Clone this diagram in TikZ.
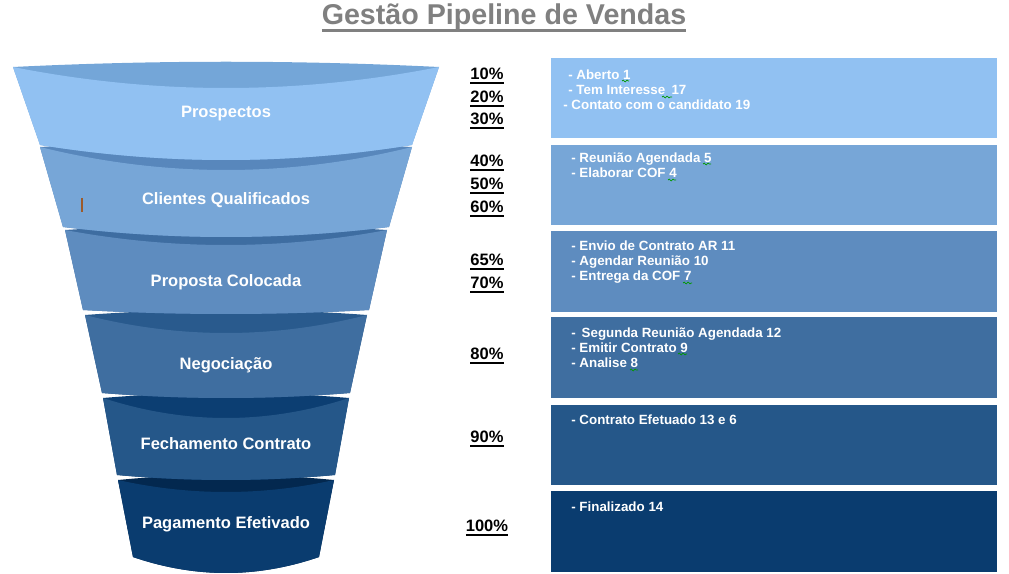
\documentclass[tikz,border=0pt]{standalone}
\usepackage{fontspec}
\setmainfont{Liberation Sans}
\usetikzlibrary{positioning, decorations.pathmorphing}

\definecolor{azul1}{HTML}{91C1F2}
\definecolor{azul2}{HTML}{77A6D7}
\definecolor{azul3}{HTML}{5E8CBF}
\definecolor{azul4}{HTML}{3F6EA0}
\definecolor{azul5}{HTML}{255789}
\definecolor{azul6}{HTML}{0A3C6F}
\definecolor{esc1}{HTML}{74A6D8}
\definecolor{esc2}{HTML}{5887BC}
\definecolor{esc3}{HTML}{3E6DA1}
\definecolor{esc4}{HTML}{295A8D}
\definecolor{esc5}{HTML}{0C3E72}
\definecolor{esc6}{HTML}{03284F}
\definecolor{cinza}{HTML}{808080}
\definecolor{marrom}{HTML}{9C5A2A}

% texto sublinhado com traço grosso
\newcommand\sublin[3]{\setbox0\hbox{#3}\rlap{\rule[-#1]{\wd0}{#2}}\box0}

\begin{document}
\begin{tikzpicture}
  [
  x=0.02cm, y=-0.02cm,
  % etapas do funil
  etapa/.style = {text=white, inner sep=0,
    font=\fontsize{9.4}{11}\selectfont\bfseries},
  % percentuais
  pct/.style = {anchor=base, inner sep=0,
    font=\fontsize{9.4}{11}\selectfont\bfseries},
  % texto das caixas
  lista/.style = {anchor=north west, align=left, text=white, inner sep=0,
    font=\fontsize{7.6}{8.8}\selectfont\bfseries},
  % marca do corretor
  ortog/.style = {draw=green!60!black, line width=0.4pt, decorate,
    decoration={snake, amplitude=0.5pt, segment length=2.2pt}},
  ]
  \useasboundingbox (0,0) rectangle (1009,574);

  % titulo
  \node [anchor=base, inner sep=0, text=cinza,
    font=\fontsize{16.3}{18}\selectfont\bfseries] (titulo) at (504,25)
    {\sublin{3.8pt}{1.3pt}{Gestão Pipeline de Vendas}};

  % funil
  \foreach \ty/\tw/\by/\bw/\fs/\bs/\dk/\fc in
    {480/108/557/93/12/16/esc6/azul6,
     398/123/475/109/20/5/esc5/azul5,
     315/141/393/124/18/5/esc4/azul4,
     230/161/310/143/15/4/esc3/azul3,
     147/186/227/163/23/10/esc2/azul2,
     67/213/145/186/21/15/esc1/azul1}
  {
    \fill [\dk] (226-\tw,\ty) .. controls (226-\tw/3,\ty-7) and (226+\tw/3,\ty-7) .. (226+\tw,\ty)
      -- (226+\bw,\by) .. controls (226+\bw/3,\by+4*\bs/3) and (226-\bw/3,\by+4*\bs/3) .. (226-\bw,\by) -- cycle;
    \fill [\fc] (226-\tw,\ty) .. controls (226-\tw/3,\ty+4*\fs/3) and (226+\tw/3,\ty+4*\fs/3) .. (226+\tw,\ty)
      -- (226+\bw,\by) .. controls (226+\bw/3,\by+4*\bs/3) and (226-\bw/3,\by+4*\bs/3) .. (226-\bw,\by) -- cycle;
  }
  \draw [marrom, line width=1.2pt] (82,198) -- (82,212);

  % nodes
  \node [etapa] (prosp) at (226,114) {Prospectos};
  \node [etapa] (clientes) at (226,200) {Clientes Qualificados};
  \node [etapa] (proposta) at (226,282) {Proposta Colocada};
  \node [etapa] (negoc) at (226,365) {Negociação};
  \node [etapa] (fecha) at (226,444) {Fechamento Contrato};
  \node [etapa] (pagto) at (226,524) {Pagamento Efetivado};

  % percentuais
  \node [pct] (p10) at (487,80) {\sublin{2.1pt}{1.1pt}{10\%}};
  \node [pct] (p20) at (487,103) {\sublin{2.1pt}{1.1pt}{20\%}};
  \node [pct] (p30) at (487,125) {\sublin{2.1pt}{1.1pt}{30\%}};
  \node [pct] (p40) at (487,167) {\sublin{2.1pt}{1.1pt}{40\%}};
  \node [pct] (p50) at (487,190) {\sublin{2.1pt}{1.1pt}{50\%}};
  \node [pct] (p60) at (487,213) {\sublin{2.1pt}{1.1pt}{60\%}};
  \node [pct] (p65) at (487,266) {\sublin{2.1pt}{1.1pt}{65\%}};
  \node [pct] (p70) at (487,289) {\sublin{2.1pt}{1.1pt}{70\%}};
  \node [pct] (p80) at (487,360) {\sublin{2.1pt}{1.1pt}{80\%}};
  \node [pct] (p90) at (487,443) {\sublin{2.1pt}{1.1pt}{90\%}};
  \node [pct] (p100) at (487,532) {\sublin{2.1pt}{1.1pt}{100\%}};

  % caixas
  \fill [azul1] (551,58) rectangle (997,138);
  \fill [azul2] (551,145) rectangle (997,225);
  \fill [azul3] (551,231) rectangle (997,312);
  \fill [azul4] (551,317) rectangle (997,398);
  \fill [azul5] (551,405) rectangle (997,485);
  \fill [azul6] (551,491) rectangle (997,572);

  \node [lista] (t1) at (563,69)
    {\hspace*{2.8pt}- Aberto 1\\\hspace*{2.8pt}- Tem Interesse\hspace{1.5pt} 17\\- Contato com o candidato 19};
  \node [lista] (t2) at (571,152) {- Reunião Agendada 5\\- Elaborar COF 4};
  \node [lista] (t3) at (571,240) {- Envio de Contrato AR 11\\- Agendar Reunião 10\\- Entrega da COF 7};
  \node [lista] (t4) at (571,327) {- \,Segunda Reunião Agendada 12\\- Emitir Contrato 9\\- Analise 8};
  \node [lista] (t5) at (571,414) {- Contrato Efetuado 13 e 6};
  \node [lista] (t6) at (571,501) {- Finalizado 14};

  % marcas do corretor
  \draw [ortog] (622,81) -- (629,81);
  \draw [ortog] (662,97) -- (672,97);
  \draw [ortog] (703,164) -- (711,164);
  \draw [ortog] (668,180) -- (676,180);
  \draw [ortog] (683,283) -- (692,283);
  \draw [ortog] (678,354) -- (687,354);
  \draw [ortog] (630,370) -- (638,370);

\end{tikzpicture}
\end{document}
